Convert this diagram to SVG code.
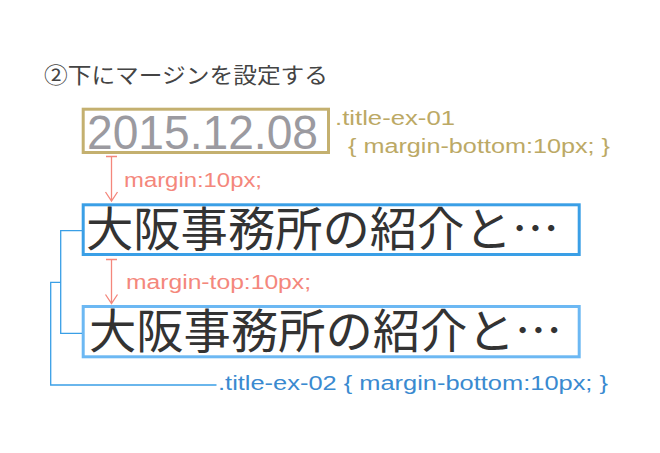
<svg xmlns="http://www.w3.org/2000/svg" width="660" height="453" viewBox="0 0 660 453">
<defs>
<style>
.jp{font-family:"Noto Sans CJK JP","Noto Sans",sans-serif;}
.lat{font-family:"Liberation Sans","Noto Sans",sans-serif;}
.pink{fill:#f4877c;}
.gold{fill:#bca965;}
.blue{fill:#3a8ad0;}
.line{fill:none;stroke-width:1.3;}
.pl{fill:none;stroke:#f4877c;stroke-width:1.3;}
</style>
</defs>
<rect width="660" height="453" fill="#ffffff"/>
<g id="title">
<text class="jp" x="44" y="83" font-size="21.5" fill="#444444" textLength="284" lengthAdjust="spacingAndGlyphs">②下にマージンを設定する</text>
</g>
<g id="node-date">
<rect x="83.2" y="109.2" width="245.3" height="43.3" fill="none" stroke="#c4b06f" stroke-width="3"/>
<text class="lat" x="87" y="149" font-size="49" fill="#9b9aa0" textLength="231" lengthAdjust="spacingAndGlyphs">2015.12.08</text>
</g>
<g id="label-title-ex-01">
<text class="lat gold" x="335" y="125" font-size="19.5" textLength="120" lengthAdjust="spacingAndGlyphs">.title-ex-01</text>
<text class="lat gold" x="348" y="152.5" font-size="19.5" textLength="262" lengthAdjust="spacingAndGlyphs">{ margin-bottom:10px; }</text>
</g>
<g id="node-title1">
<rect x="83.2" y="204.8" width="496" height="49.7" fill="none" stroke="#3a9fe6" stroke-width="3"/>
<text class="jp" x="86" y="246" font-size="47" fill="#333333" textLength="473" lengthAdjust="spacingAndGlyphs">大阪事務所の紹介と…</text>
</g>
<g id="node-title2">
<rect x="83.2" y="306.5" width="496" height="50.3" fill="none" stroke="#6cb8f3" stroke-width="3"/>
<text class="jp" x="89" y="348" font-size="47" fill="#333333" textLength="473" lengthAdjust="spacingAndGlyphs">大阪事務所の紹介と…</text>
</g>
<g id="label-margin">
<text class="lat pink" x="124" y="187" font-size="19.5" textLength="138" lengthAdjust="spacingAndGlyphs">margin:10px;</text>
<text class="lat pink" x="126" y="289" font-size="19.5" textLength="185" lengthAdjust="spacingAndGlyphs">margin-top:10px;</text>
</g>
<g id="label-title-ex-02">
<text class="lat blue" x="218" y="390" font-size="19.5" textLength="390" lengthAdjust="spacingAndGlyphs">.title-ex-02 { margin-bottom:10px; }</text>
</g>
<g id="connectors">
<path class="pl" d="M106,156.5 H117 M111.5,156.5 V201 M105.5,192 L111.5,201 L117.5,192"/>
<path class="pl" d="M106,259.5 H117 M111.5,259.5 V303.5 M105.5,294.5 L111.5,303.5 L117.5,294.5"/>
<polyline class="line" points="82,230.7 60.7,230.7 60.7,333.3 82,333.3" stroke="#3a9fe6"/>
<polyline class="line" points="60.7,282.3 50.7,282.3 50.7,385 216.5,385" stroke="#3a9fe6"/>
</g>
</svg>
